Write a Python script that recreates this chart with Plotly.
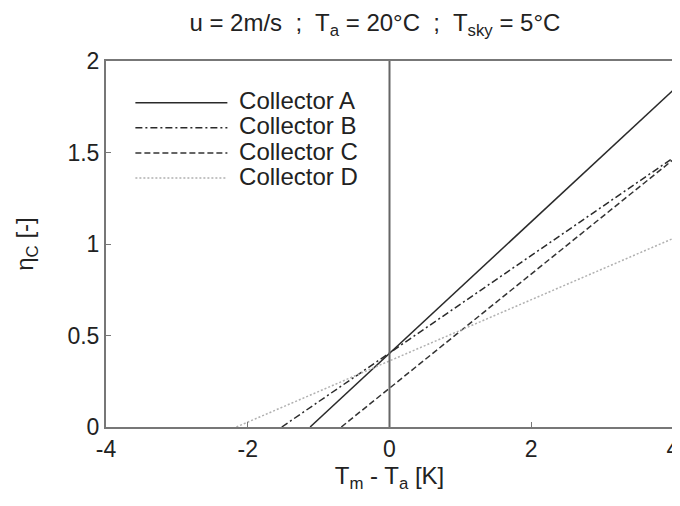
import plotly.graph_objects as go

names = ["Collector A", "Collector B", "Collector C", "Collector D"]
x_start = [-1.12, -1.52, -0.68, -2.16]
x_end = [4, 4, 4, 4]
y_start = [0, 0, 0, 0]
y_end = [1.84, 1.47, 1.46, 1.03]
dashes = ["solid", "7px,3px,2px,3px", "6px,3px", "2px,2px"]
colors = ["#2a2a2a", "#2a2a2a", "#333333", "#b0b0b0"]
x_ticks = [-4, -2, 0, 2, 4]
x_ticklabels = ["-4", "-2", "0", "2", "4"]
y_ticks = [0, 0.5, 1, 1.5, 2]
y_ticklabels = ["0", "0.5", "1", "1.5", "2"]

fig = go.Figure()
for n, xs, xe, ys, ye, d, c in zip(names, x_start, x_end, y_start, y_end, dashes, colors):
    fig.add_trace(go.Scatter(x=[xs, xe], y=[ys, ye], mode="lines",
                             name=f'<span style="font-size:24px">\u00a0{n}</span>',
                             line=dict(color=c, dash=d, width=1.5)))

fig.add_vline(x=0, line=dict(color="#666666", width=2))

axis_common = dict(showline=True, mirror=True, linecolor="#777777", linewidth=2,
                   ticks="inside", ticklen=5, tickcolor="#777777", showgrid=False,
                   zeroline=False, automargin=False,
                   tickfont=dict(size=23, color="#222222"))
fig.update_xaxes(range=[-4, 4], tickvals=x_ticks, ticktext=x_ticklabels,
                 title=dict(text="T<sub>m</sub> - T<sub>a</sub> [K]", font=dict(size=24, color="#222222"), standoff=3),
                 **axis_common)
fig.update_yaxes(range=[0, 2], tickvals=y_ticks, ticktext=y_ticklabels,
                 title=dict(text="η<sub>C</sub> [-]", font=dict(size=24, color="#222222"), standoff=27),
                 **axis_common)

fig.update_layout(
    width=672, height=498,
    margin=dict(l=98, r=7, t=53, b=79),
    paper_bgcolor="white", plot_bgcolor="white",
    font=dict(family="Liberation Sans, Arial, sans-serif", color="#222222"),
    title=dict(text="u = 2m/s  ;  T<sub>a</sub> = 20°C  ;  T<sub>sky</sub> = 5°C",
               x=0.546, xanchor="center", y=0.97, yanchor="middle",
               font=dict(size=24, color="#222222")),
    showlegend=True,
    legend=dict(x=0.043, y=0.934, xanchor="left", yanchor="top", bgcolor="rgba(0,0,0,0)",
                font=dict(size=17, color="#222222"), itemwidth=92, tracegroupgap=0),
)

fig.write_html("out.html")
